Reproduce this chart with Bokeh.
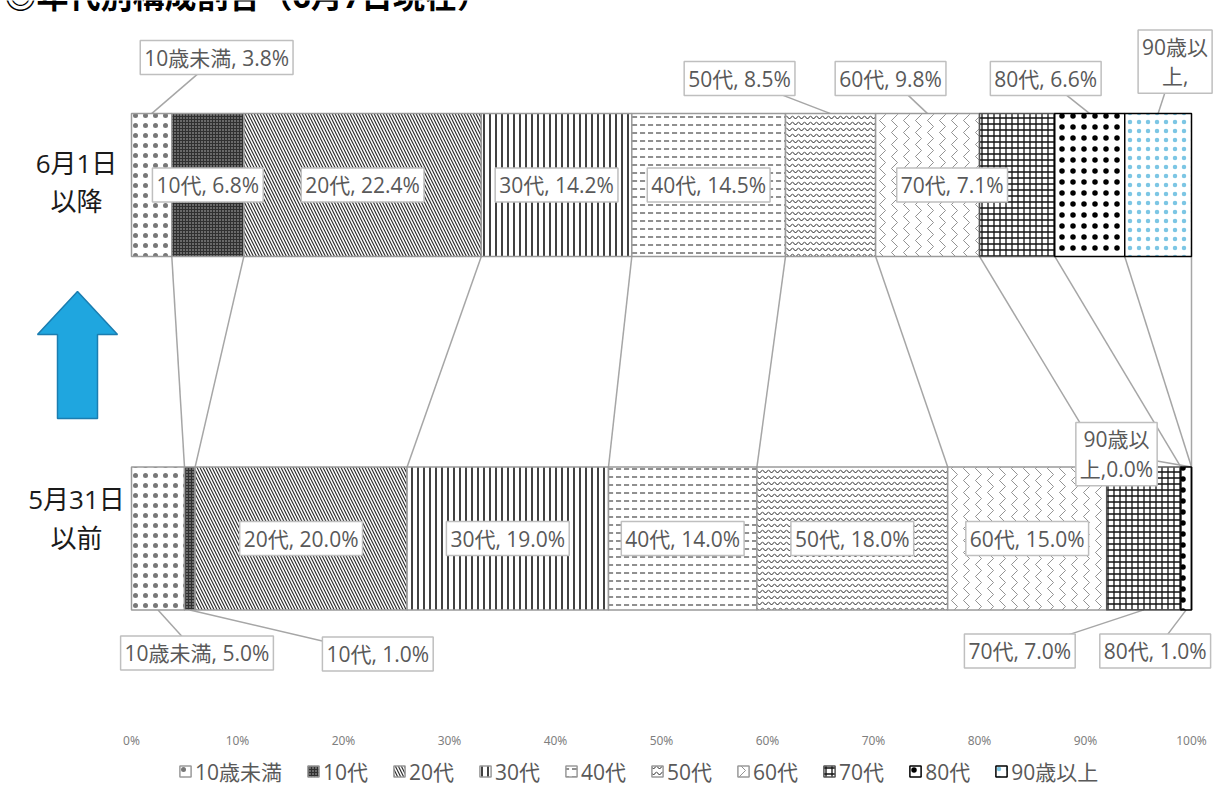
import numpy as np
from bokeh.plotting import figure
from bokeh.layouts import column
from bokeh.models import (Range1d, FixedTicker, PrintfTickFormatter, Legend, LegendItem,
                          ColumnDataSource)
from bokeh.core.properties import value
from bokeh.embed import file_html
from bokeh.resources import INLINE

# ---------------- data ----------------
title_text = "◎年代別構成割合（6月7日現在）"
groups = ["6月1日\n以降", "5月31日\n以前"]
group_pos = [1, 0]
ages = ["10歳未満", "10代", "20代", "30代", "40代", "50代", "60代", "70代", "80代", "90歳以上"]
share_after = [3.8, 6.8, 22.4, 14.2, 14.5, 8.5, 9.8, 7.1, 6.6, 6.3]
share_before = [5.0, 1.0, 20.0, 19.0, 14.0, 18.0, 15.0, 7.0, 1.0, 0.0]
tick_values = [0, 10, 20, 30, 40, 50, 60, 70, 80, 90, 100]

# label texts (Excel wraps / truncates the last ones)
labels_after = [f"{a}, {v:.1f}%" for a, v in zip(ages, share_after)]
labels_after[9] = "90歳以\n上,"
labels_before = [f"{a}, {v:.1f}%" for a, v in zip(ages, share_before)]
labels_before[9] = "90歳以\n上,0.0%"

# ---------------- layout (pixels) ----------------
W = 1218
H_MAIN, H_LEG = 752, 35
FRAME_BOTTOM = 728
X0_PX = 131.0
PX_PER_X = 10.6
PX_PER_Y = 353.5
TOP_CENTER_PX = 184.5
BOT_CENTER_PX = 538.0
x_start = -X0_PX / PX_PER_X
x_end = (W - X0_PX) / PX_PER_X
y_end = 1 + TOP_CENTER_PX / PX_PER_Y
y_start = -(FRAME_BOTTOM - BOT_CENTER_PX) / PX_PER_Y
BAR_H = 0.404


def cx(px):
    return x_start + px / PX_PER_X


def cy(py):
    return y_end - py / PX_PER_Y


# label placement: (mode, dx px, dy px downward)
place_after = [("top", 65, -56), ("in", 0, 0), ("in", 0, 0), ("in", 0, 0), ("in", 0, 0),
               ("top", -91, -35), ("top", -37, -35), ("in", -65, 0), ("top", -44, -35),
               ("top", 17, -52)]
place_before = [("bottom", 39, 43), ("bottom", 188, 44), ("in", 0, 0), ("in", 0, 0), ("in", 0, 0),
                ("in", 0, 0), ("in", 0, 0), ("bottom", -124, 41), ("bottom", -31, 41),
                ("top", -75, -13)]

fill_colors = ["white", "#6a6a6a", "white", "white", "white", "white", "white", "white", "white", "white"]
hatch_patterns = [".", "+", "\\", "|", '"', "v", ">", "+", ".", "."]
hatch_colors = ["#777777", "#303030", "#303030", "#111111", "#444444", "#222222", "#777777",
                "#111111", "#000000", "#7cc6e4"]
hatch_scales = [10, 3, 6, 6, 8, 6, 12, 6, 11, 9]
hatch_weights = [1, 1, 1.2, 1.6, 1.2, 1, 0.8, 1.3, 1, 1]
line_colors = ["#9a9a9a"] * 7 + ["#555555", "#000000", "#000000"]

FONT = "'Open Sans', 'Noto Sans CJK JP'"
GRAY_TXT = "#595959"
LINE_GRAY = "#a6a6a6"

p = figure(width=W, height=H_MAIN, output_backend="svg", toolbar_location=None,
           x_range=Range1d(x_start, x_end), y_range=Range1d(y_start, y_end),
           y_axis_location=None, min_border_left=0, min_border_right=0,
           min_border_top=0, min_border_bottom=H_MAIN - FRAME_BOTTOM)
p.outline_line_color = None
p.xgrid.visible = False
p.ygrid.visible = False
p.background_fill_color = "white"
p.border_fill_color = "white"


def cum(vals):
    out, s = [], 0.0
    for v in vals:
        out.append(s)
        s += v
    return out


left_after = cum(share_after)
left_before = cum(share_before)
right_after = [l + v for l, v in zip(left_after, share_after)]
right_before = [l + v for l, v in zip(left_before, share_before)]

# series lines
p.segment(x0=right_after, y0=[group_pos[0] - BAR_H / 2] * len(ages),
          x1=right_before, y1=[group_pos[1] + BAR_H / 2] * len(ages),
          line_color=LINE_GRAY, line_width=1.5)

# labels and leaders
lx, ly, lt = [], [], []
ldx0, ldy0, ldx1, ldy1 = [], [], [], []
for gpos, lefts, vals, texts, places in [
        (group_pos[0], left_after, share_after, labels_after, place_after),
        (group_pos[1], left_before, share_before, labels_before, place_before)]:
    for l, v, t, (mode, dx, dy) in zip(lefts, vals, texts, places):
        ax = l + v / 2
        if mode == "in":
            ay = gpos
        elif mode == "top":
            ay = gpos + BAR_H / 2
        else:
            ay = gpos - BAR_H / 2
        tx = ax + dx / PX_PER_X
        ty = ay - dy / PX_PER_Y
        lx.append(tx)
        ly.append(ty)
        lt.append(t)
        if mode != "in":
            ldx0.append(tx)
            ldy0.append(ty)
            ldx1.append(ax)
            ldy1.append(ay)

p.segment(x0=ldx0, y0=ldy0, x1=ldx1, y1=ldy1, line_color=LINE_GRAY, line_width=1.5)

# bars
bar_styles = []
for i, age in enumerate(ages):
    style = dict(fill_color=fill_colors[i], hatch_pattern=hatch_patterns[i],
                 hatch_color=hatch_colors[i], hatch_scale=hatch_scales[i],
                 hatch_weight=hatch_weights[i], line_color=line_colors[i], line_width=1.5)
    bar_styles.append(style)
    src = ColumnDataSource(dict(y=group_pos, left=[left_after[i], left_before[i]],
                                right=[right_after[i], right_before[i]]))
    p.hbar(y="y", left="left", right="right", height=BAR_H, source=src, **style)

lab_src = ColumnDataSource(dict(x=lx, y=ly, text=lt))
p.text(x="x", y="y", text="text", source=lab_src, text_align="center", text_baseline="middle",
       text_font=value(FONT), text_font_size="21px", text_color=GRAY_TXT,
       text_line_height=1.05,
       background_fill_color="white", border_line_color="#bfbfbf", border_line_width=1.5,
       padding=(4, 3))

# category labels
cat_dy = [-3, -20]
p.text(x=[cx(76)] * 2, y=[g - d / PX_PER_Y for g, d in zip(group_pos, cat_dy)], text=groups,
       text_align="center", text_baseline="middle", text_font=value(FONT),
       text_font_size="26px", text_color="#1a1a1a", text_line_height=1.08)

# blue arrow (decoration)
arrow_px = [(77, 291), (117, 334), (97, 334), (97, 418), (57, 418), (57, 334), (37, 334)]
p.patch(x=[cx(a) for a, b in arrow_px], y=[cy(b) for a, b in arrow_px],
        fill_color="#1fa6df", line_color="#1b7db0", line_width=1.5)

# title (cut off at top of page)
p.text(x=[cx(4)], y=[cy(16)], text=[title_text], text_align="left", text_baseline="bottom",
       text_font=value(FONT), text_font_size="32px", text_font_style="bold", text_color="black")

# x axis
p.xaxis.ticker = FixedTicker(ticks=tick_values)
p.xaxis.formatter = PrintfTickFormatter(format="%d%%")
p.xaxis.axis_line_color = None
p.xaxis.major_tick_line_color = None
p.xaxis.minor_tick_line_color = None
p.xaxis.major_tick_out = 0
p.xaxis.major_tick_in = 0
p.xaxis.major_label_standoff = 3
p.xaxis.major_label_text_font = "Noto Sans"
p.xaxis.major_label_text_font_size = "12px"
p.xaxis.major_label_text_color = "#7f7f7f"

# legend strip (same styles; the stand-in bars have no drawable coordinates)
pl = figure(width=W, height=H_LEG, output_backend="svg", toolbar_location=None,
            x_range=Range1d(0, 1), y_range=Range1d(0, 1),
            x_axis_location=None, y_axis_location=None,
            min_border_left=0, min_border_right=0, min_border_top=0, min_border_bottom=0)
pl.outline_line_color = None
pl.xgrid.visible = False
pl.ygrid.visible = False
items = []
for age, style in zip(ages, bar_styles):
    dummy = ColumnDataSource(dict(y=np.array([np.nan]), left=np.array([np.nan]),
                                  right=np.array([np.nan])))
    r = pl.hbar(y="y", left="left", right="right", height=0.5, source=dummy, **style)
    items.append(LegendItem(label=age, renderers=[r]))
legend = Legend(items=items, orientation="horizontal", location=(178, 1),
                label_text_font=FONT, label_text_font_size="21px", label_text_color=GRAY_TXT,
                glyph_width=14, glyph_height=14, label_standoff=3, spacing=24,
                padding=0, margin=0, border_line_color=None, background_fill_alpha=0)
pl.add_layout(legend, "center")

layout = column(p, pl, spacing=0)
open("out.html", "w").write(file_html(layout, INLINE))
